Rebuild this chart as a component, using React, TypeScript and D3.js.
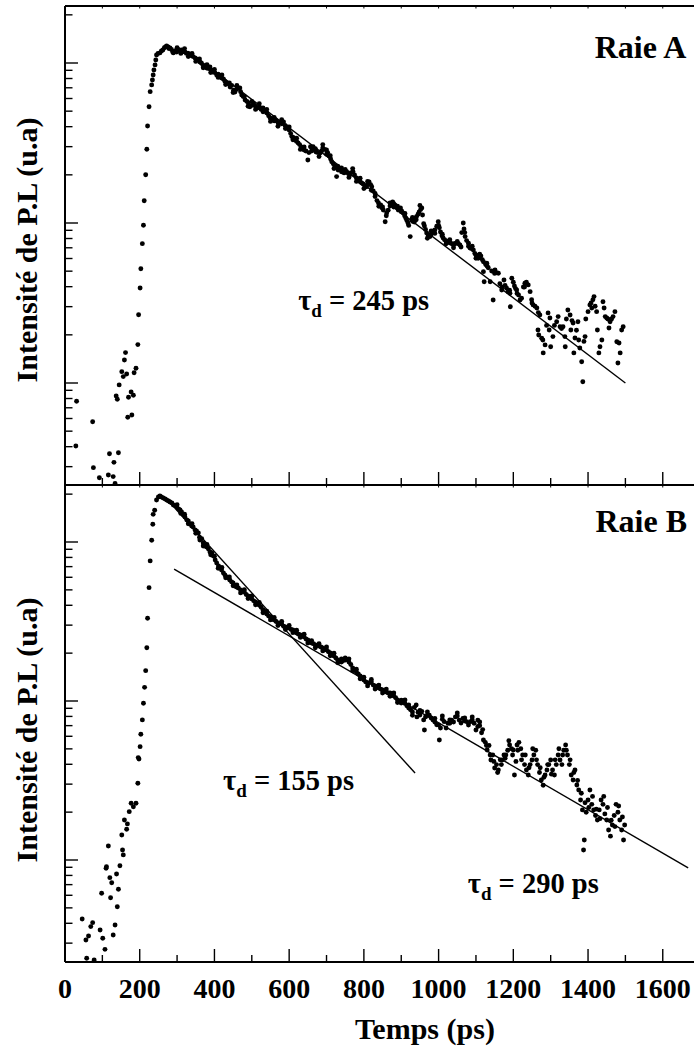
import React from "react";
import * as d3 from "d3";

// ---------- data (time in ps, log10 of PL intensity in arbitrary units) ----------
const xMajorTicks = [0, 200, 400, 600, 800, 1000, 1200, 1400, 1600];
const xMinorTicks = [100, 300, 500, 700, 900, 1100, 1300, 1500, 1700];
const yDecades = [1, 10, 100, 1000];
const yMinorMultipliers = [2, 3, 4, 5, 6, 7, 8, 9];

const raieA: [number, number][] = [
  [29,0.606],[31,0.886],[74,0.758],[76,0.471],[92,0.408],[116,0.425],[119,0.558],[129,0.415],[131,0.504],[134,0.372],
  [137,0.919],[140,0.898],[143,0.564],[145,0.988],[152,1.071],[156,1.04],[159,1.144],[162,1.19],[165,1.056],[168,0.786],
  [170,0.911],[177,0.944],[179,0.8],[183,0.923],[185,1.064],[190,1.092],[195,1.24],[197,1.427],[201,1.594],[203,1.714],
  [207,1.871],[210,1.986],[212,2.139],[216,2.302],[219,2.461],[221,2.606],[225,2.727],[228,2.821],
  [232,2.863],[234,2.894],[236,2.925],[238,2.956],[241,2.988],[243,3.019],[245,3.05],
  [249,3.06],[254,3.063],[258,3.075],[262,3.081],[266,3.095],[269,3.1],[272,3.106],[276,3.1],[278,3.09],[281,3.094],
  [285,3.085],[288,3.07],[290,3.063],[294,3.072],[297,3.078],[299,3.069],[303,3.085],[307,3.08],[312,3.081],[315,3.07],
  [318,3.075],[321,3.069],[325,3.06],[329,3.062],[332,3.055],[335,3.05],[339,3.045],[343,3.04],[348,3.031],[352,3.025],
  [356,3.02],[361,3.006],[365,3.0],[369,2.988],[374,2.98],[379,2.969],[384,2.965],[388,2.975],[392,2.955],[396,2.944],
  [401,2.94],[406,2.925],[410,2.93],[414,2.915],[419,2.906],[424,2.9],[428,2.885],[433,2.875],[437,2.87],[442,2.85],
  [446,2.86],[451,2.83],[455,2.819],[459,2.835],[463,2.844],[468,2.844],[473,2.8],[477,2.79],[482,2.769],[487,2.76],
  [491,2.75],[495,2.727],[500,2.735],[505,2.744],[510,2.73],[515,2.719],[520,2.725],[525,2.71],[530,2.719],[535,2.7],
  [540,2.688],[545,2.67],[549,2.656],[554,2.65],[560,2.638],[565,2.64],[570,2.628],[575,2.625],[580,2.62],[585,2.631],
  [589,2.61],[593,2.602],[597,2.59],[600,2.581],[604,2.56],[607,2.54],[611,2.535],[615,2.519],[620,2.51],[624,2.5],
  [628,2.49],[632,2.475],[636,2.47],[640,2.456],[645,2.45],[650,2.394],[653,2.44],[657,2.477],[661,2.47],[664,2.477],
  [668,2.455],[672,2.444],[677,2.44],[683,2.438],[687,2.45],[690,2.469],[695,2.46],[700,2.456],[703,2.44],[707,2.419],
  [711,2.4],[714,2.383],[718,2.37],[722,2.356],[727,2.29],[729,2.345],[731,2.331],[735,2.34],[740,2.344],[744,2.33],
  [747,2.313],[751,2.32],[754,2.321],[758,2.31],[762,2.3],[766,2.315],[771,2.321],[775,2.3],[780,2.281],[785,2.27],
  [790,2.258],[794,2.25],[798,2.244],[802,2.235],[807,2.227],[810,2.24],[814,2.256],[818,2.24],[821,2.227],[825,2.2],
  [830,2.165],[835,2.14],[839,2.125],[845,2.113],[848,2.095],[852,2.081],[857,2.008],[861,2.063],[865,2.08],[870,2.106],
  [874,2.12],[877,2.131],[880,2.12],[883,2.113],[888,2.095],[892,2.081],[898,2.094],[901,2.075],[905,2.063],[909,2.045],
  [912,2.031],[915,2.015],[918,2.0],[924,1.915],[928,2.019],[931,2.01],[935,2.006],[938,2.03],[941,2.04],[945,2.055],
  [948,2.069],[952,2.085],[955,2.094],[957,2.05],[962,1.981],[965,1.96],[968,1.938],[972,1.925],[977,1.915],[980,1.93],
  [983,1.938],[987,1.95],[990,1.956],[995,1.98],[999,2.008],[1002,1.97],[1005,1.944],[1009,1.92],[1012,1.906],[1016,1.895],
  [1020,1.888],[1025,1.88],[1031,1.875],[1036,1.87],[1040,1.863],[1044,1.872],[1048,1.875],[1053,1.87],[1057,1.863],[1062,1.94],
  [1066,2.0],[1068,1.963],[1071,1.915],[1075,1.89],[1080,1.873],[1084,1.844],[1088,1.84],[1093,1.831],[1097,1.81],[1100,1.8],
  [1104,1.79],[1106,1.78],[1110,1.785],[1113,1.794],[1117,1.77],[1120,1.758],[1120,1.696],[1122,1.633],[1126,1.74],[1129,1.748],
  [1133,1.72],[1138,1.633],[1142,1.7],[1146,1.519],[1151,1.706],[1155,1.69],[1160,1.686],[1164,1.62],[1169,1.581],[1175,1.644],
  [1178,1.61],[1182,1.592],[1186,1.57],[1191,1.561],[1192,1.477],[1196,1.655],[1200,1.63],[1203,1.606],[1206,1.59],[1209,1.581],
  [1214,1.55],[1218,1.519],[1222,1.53],[1227,1.6],[1231,1.623],[1235,1.63],[1240,1.613],[1245,1.571],[1249,1.52],[1253,1.488],
  [1258,1.48],[1263,1.469],[1267,1.44],[1271,1.425],[1266,1.331],[1268,1.3],[1276,1.28],[1279,1.269],[1285,1.238],[1280,1.188],
  [1289,1.36],[1293,1.438],[1298,1.406],[1296,1.331],[1306,1.29],[1300,1.227],[1310,1.36],[1316,1.383],[1320,1.415],[1325,1.352],
  [1329,1.34],[1333,1.352],[1338,1.29],[1339,1.227],[1342,1.4],[1346,1.456],[1352,1.425],[1354,1.331],[1357,1.39],[1360,1.375],
  [1365,1.281],[1362,1.188],[1369,1.33],[1373,1.383],[1375,1.269],[1378,1.219],[1383,1.133],[1386,1.008],[1389,1.26],[1392,1.29],
  [1394,1.4],[1400,1.446],[1405,1.488],[1408,1.5],[1413,1.52],[1416,1.54],[1410,1.469],[1419,1.48],[1423,1.446],[1425,1.331],
  [1432,1.227],[1429,1.188],[1437,1.269],[1440,1.508],[1443,1.469],[1446,1.415],[1450,1.406],[1453,1.4],[1459,1.383],[1456,1.344],
  [1463,1.4],[1467,1.415],[1472,1.446],[1477,1.258],[1483,1.25],[1486,1.188],[1480,1.125],[1490,1.331],[1494,1.352],
  // second row of points in the band
  [300,3.095],[310,3.06],[320,3.09],[330,3.04],[340,3.06],[350,3.01],[360,3.025],[370,2.97],[380,2.99],[390,2.94],
  [400,2.96],[410,2.91],[420,2.925],[430,2.865],[440,2.875],[450,2.815],[460,2.86],[470,2.82],[480,2.79],[490,2.73],
  [500,2.76],[510,2.71],[520,2.745],[530,2.695],[540,2.71],[550,2.635],[560,2.66],[570,2.605],[580,2.645],[590,2.59],
  [600,2.6],[610,2.52],[620,2.53],[630,2.46],[640,2.475],[660,2.45],[670,2.465],[680,2.415],[690,2.49],[700,2.43],
  [710,2.42],[720,2.34],[730,2.355],[740,2.32],[750,2.335],[760,2.285],[770,2.34],[780,2.26],[790,2.28],[800,2.215],
  [810,2.26],[820,2.205],[830,2.185],[840,2.105],[850,2.1],[860,2.045],[870,2.125],[880,2.1],[890,2.105],[900,2.07],
  [910,2.06],[920,1.985],[930,2.035],[940,2.02],[950,2.11],[960,1.995],[970,1.905],[980,1.95],[990,1.935],[1000,1.985],
  [1010,1.93],[1020,1.87],[1030,1.895],[1040,1.845],[1050,1.885],[1060,1.85],[1070,1.94],[1080,1.855],[1090,1.855],[1100,1.78],
  [1110,1.805],[1130,1.73],[1150,1.685],[1170,1.6],[1190,1.58],[1210,1.56],[1230,1.6],[1250,1.5]
];

const raieB: [number, number][] = [
  [46,0.629],[56,0.497],[58,0.382],[63,0.522],[69,0.581],[74,0.606],[78,0.371],[94,0.56],[98,0.791],[101,0.508],
  [107,0.438],[110,0.948],[111,0.958],[116,1.088],[120,0.889],[122,0.763],[125,0.857],[129,0.528],[134,0.591],[138,0.912],
  [140,0.706],[143,0.816],[147,0.964],[152,1.157],[154,1.063],[156,1.032],[159,1.252],[165,1.193],[167,1.227],[172,1.304],
  [177,1.357],[183,1.335],[190,1.357],[195,1.483],[196,1.644],[198,1.635],[201,1.713],[203,1.791],[207,1.881],[210,1.986],
  [213,2.086],[216,2.191],[219,2.335],[221,2.52],[225,2.713],[228,2.881],[232,3.011],[235,3.112],[236,3.174],
  [240,3.2],[245,3.264],[250,3.283],[254,3.289],[258,3.283],[263,3.277],[268,3.271],[272,3.264],[277,3.258],[281,3.252],
  [286,3.245],[290,3.233],[295,3.226],[299,3.22],[304,3.208],[308,3.201],[312,3.189],[317,3.17],[321,3.157],[326,3.139],
  [330,3.132],[335,3.113],[339,3.101],[343,3.094],[348,3.076],[352,3.069],[357,3.057],[361,3.013],[366,3.02],[370,2.994],
  [375,2.975],[379,2.969],[384,2.956],[388,2.937],[393,2.931],[397,2.912],[402,2.887],[406,2.868],[411,2.849],[415,2.837],
  [419,2.824],[424,2.805],[428,2.793],[433,2.78],[437,2.774],[441,2.761],[446,2.749],[450,2.742],[455,2.723],[459,2.717],
  [464,2.711],[470,2.698],[475,2.69],[480,2.686],[485,2.67],[490,2.66],[495,2.655],[500,2.642],[505,2.63],[510,2.623],
  [515,2.61],[520,2.604],[525,2.59],[530,2.572],[535,2.56],[540,2.547],[545,2.535],[550,2.528],[555,2.515],[560,2.509],
  [565,2.5],[570,2.491],[575,2.49],[580,2.484],[585,2.47],[590,2.466],[595,2.46],[600,2.459],[605,2.45],[610,2.447],
  [615,2.435],[620,2.428],[625,2.42],[630,2.415],[635,2.41],[640,2.403],[645,2.39],[650,2.384],[655,2.37],[660,2.365],
  [665,2.36],[670,2.352],[675,2.35],[680,2.346],[685,2.34],[690,2.333],[695,2.325],[700,2.321],[705,2.31],[710,2.302],
  [715,2.29],[720,2.283],[725,2.27],[730,2.258],[735,2.25],[740,2.245],[745,2.255],[750,2.258],[755,2.26],[760,2.245],
  [765,2.23],[770,2.208],[775,2.195],[780,2.183],[785,2.17],[790,2.157],[795,2.145],[800,2.132],[805,2.12],[810,2.113],
  [815,2.115],[820,2.12],[825,2.1],[830,2.094],[835,2.09],[840,2.082],[845,2.075],[850,2.069],[855,2.06],[860,2.057],
  [865,2.05],[870,2.05],[875,2.04],[880,2.031],[885,2.02],[890,2.006],[895,1.995],[900,1.987],[905,2.0],[910,2.006],
  [915,1.97],[920,1.956],[925,1.945],[930,1.931],[935,1.96],[940,1.975],[942,1.9],[945,1.93],[950,1.912],[955,1.935],
  [960,1.881],[962,1.818],[965,1.9],[970,1.931],[975,1.91],[980,1.893],[985,1.88],[990,1.868],[995,1.85],[1000,1.849],
  [1002,1.755],[1005,1.83],[1010,1.906],[1015,1.87],[1020,1.83],[1025,1.86],[1030,1.881],[1035,1.88],[1040,1.868],[1045,1.9],
  [1050,1.906],[1055,1.88],[1060,1.862],[1065,1.89],[1070,1.893],[1075,1.87],[1080,1.849],[1085,1.87],[1090,1.881],[1095,1.86],
  [1100,1.818],[1105,1.84],[1110,1.868],[1115,1.8],[1120,1.755],[1125,1.74],[1130,1.692],[1135,1.72],[1140,1.629],[1145,1.66],
  [1150,1.579],[1155,1.6],[1160,1.566],[1165,1.63],[1170,1.629],[1175,1.66],[1180,1.66],[1185,1.69],[1190,1.723],[1195,1.7],
  [1200,1.692],[1203,1.535],[1207,1.62],[1210,1.723],[1215,1.74],[1220,1.7],[1225,1.66],[1230,1.6],[1235,1.566],[1240,1.535],
  [1245,1.6],[1250,1.629],[1255,1.66],[1260,1.69],[1265,1.6],[1270,1.55],[1275,1.503],[1280,1.47],[1285,1.535],[1290,1.566],
  [1295,1.6],[1300,1.629],[1305,1.566],[1310,1.535],[1315,1.6],[1320,1.66],[1325,1.629],[1330,1.6],[1335,1.69],[1340,1.723],
  [1345,1.66],[1350,1.6],[1355,1.535],[1360,1.503],[1365,1.566],[1370,1.472],[1375,1.44],[1380,1.377],[1385,1.315],[1388,1.063],
  [1390,1.126],[1395,1.3],[1400,1.377],[1405,1.44],[1410,1.35],[1415,1.315],[1420,1.28],[1425,1.252],[1430,1.315],[1435,1.377],
  [1440,1.35],[1445,1.29],[1450,1.252],[1455,1.189],[1460,1.15],[1465,1.22],[1470,1.28],[1475,1.35],[1480,1.3],[1485,1.252],
  [1490,1.189],[1495,1.126],[1498,1.22],
  // second row of points in the band and extra scatter in the tail
  [300,3.235],[310,3.18],[320,3.175],[330,3.115],[340,3.115],[350,3.055],[360,3.03],[370,2.975],[380,2.985],[390,2.92],
  [400,2.91],[410,2.835],[420,2.84],[430,2.775],[440,2.78],[450,2.725],[460,2.73],[470,2.68],[480,2.7],[490,2.645],
  [500,2.66],[510,2.605],[520,2.62],[530,2.555],[540,2.565],[550,2.51],[560,2.525],[570,2.475],[580,2.5],[590,2.45],
  [600,2.475],[610,2.43],[620,2.445],[630,2.4],[640,2.42],[650,2.365],[660,2.38],[670,2.335],[680,2.36],[690,2.315],
  [700,2.34],[710,2.285],[720,2.3],[730,2.24],[740,2.265],[750,2.27],[760,2.265],[770,2.19],[780,2.2],[790,2.14],
  [800,2.15],[810,2.095],[820,2.135],[830,2.075],[840,2.1],[850,2.05],[860,2.075],[870,2.03],[880,2.05],[890,1.99],
  [900,2.005],[910,1.985],[920,1.975],[930,1.91],[950,1.94],[970,1.91],[990,1.89],[1010,1.885],[1030,1.86],[1050,1.925],
  [1070,1.875],[1090,1.9],[1110,1.845],
  [1105,1.88],[1118,1.82],[1128,1.72],[1138,1.66],[1148,1.62],[1158,1.55],[1168,1.6],[1178,1.64],[1188,1.75],[1198,1.66],
  [1212,1.69],[1222,1.63],[1232,1.66],[1242,1.58],[1252,1.7],[1262,1.63],[1272,1.58],[1282,1.52],[1292,1.6],[1302,1.54],
  [1312,1.63],[1322,1.7],[1332,1.66],[1342,1.69],[1352,1.63],[1362,1.55],[1372,1.5],[1382,1.42],[1392,1.36],[1402,1.33],
  [1412,1.4],[1422,1.32],[1432,1.26],[1442,1.4],[1452,1.33],[1462,1.25],[1472,1.21],[1482,1.34],[1492,1.27]
];

// fitted decays (end points of the straight lines on the log axis)
const fitA: [number, number][] = [[380, 2.985], [1500, 1.0]];
const fitB155: [number, number][] = [[294, 3.214], [937, 1.547]];
const fitB290: [number, number][] = [[292, 2.83], [1668, 0.95]];

const panelNames = ["Raie A", "Raie B"];
const tauLabels = ["245", "155", "290"];
const xTitle = "Temps (ps)";
const yTitle = "Intensité de P.L (u.a)";

// ---------- layout ----------
const W = 694;
const H = 1049;
const X0 = 65;
const FONT = "'Liberation Serif', 'Times New Roman', serif";

export default function App() {
  const x = d3.scaleLinear().domain([0, 1700]).range([X0, X0 + 1700 * 0.3736]);
  const panels = [
    {
      top: 6, bottom: 485,
      y: d3.scaleLog().domain([10 ** 0.3625, 10 ** 3.35625]).range([485, 6]),
      data: raieA, fits: [fitA], name: panelNames[0], nameAt: [1663, 3.031],
      taus: [{ v: tauLabels[0], at: [624, 1.456] }],
      titleY: 250,
    },
    {
      top: 485, bottom: 962,
      y: d3.scaleLog().domain([10 ** 0.3585, 10 ** 3.3585]).range([962, 485]),
      data: raieB, fits: [fitB155, fitB290], name: panelNames[1], nameAt: [1665, 3.063],
      taus: [{ v: tauLabels[1], at: [423, 1.44] }, { v: tauLabels[2], at: [1078, 0.793] }],
      titleY: 730,
    },
  ];

  return (
    <svg width={W} height={H} style={{ position: "absolute", left: 0, top: 0, background: "#fff" }} fontFamily={FONT}>
      <rect x={0} y={0} width={W} height={H} fill="#fff" />
      {panels.map((p, pi) => {
        const yTicks: { v: number; major: boolean }[] = [];
        yDecades.forEach((d) => {
          yTicks.push({ v: d, major: true });
          yMinorMultipliers.forEach((m) => yTicks.push({ v: d * m, major: false }));
        });
        const [lo, hi] = p.y.domain();
        const line = d3.line<[number, number]>().x((d) => x(d[0])).y((d) => p.y(10 ** d[1]));
        const clipId = `clip${pi}`;
        return (
          <g key={pi}>
            <defs>
              <clipPath id={clipId}>
                <rect x={X0} y={p.top} width={W} height={p.bottom - p.top} />
              </clipPath>
            </defs>
            <g clipPath={`url(#${clipId})`}>
              {p.fits.map((f, fi) => (
                <path key={fi} d={line(f) || ""} fill="none" stroke="#000" strokeWidth={1.4} />
              ))}
              {p.data.map((d, i) => (
                <circle key={i} cx={x(d[0])} cy={p.y(10 ** d[1])} r={2.45} fill="#000" />
              ))}
            </g>
            {/* y ticks */}
            {yTicks
              .filter((t) => t.v >= lo && t.v <= hi)
              .map((t, i) => (
                <line key={i} x1={X0} x2={X0 + (t.major ? 13 : 7.5)} y1={p.y(t.v)} y2={p.y(t.v)} stroke="#000" strokeWidth={1.4} />
              ))}
            {/* x ticks on bottom edge */}
            {xMajorTicks.map((t) => (
              <line key={"M" + t} x1={x(t)} x2={x(t)} y1={p.bottom} y2={p.bottom - 13} stroke="#000" strokeWidth={1.4} />
            ))}
            {xMinorTicks.map((t) => (
              <line key={"m" + t} x1={x(t)} x2={x(t)} y1={p.bottom} y2={p.bottom - 7} stroke="#000" strokeWidth={1.4} />
            ))}
            {/* small ticks on top edge */}
            {[...xMajorTicks, ...xMinorTicks].map((t) => (
              <line key={"t" + t} x1={x(t)} x2={x(t)} y1={p.top} y2={p.top + 2.5} stroke="#000" strokeWidth={1} />
            ))}
            {/* frame */}
            <line x1={X0} x2={W} y1={p.top} y2={p.top} stroke="#000" strokeWidth={2} />
            <line x1={X0} x2={W} y1={p.bottom} y2={p.bottom} stroke="#000" strokeWidth={2} />
            <line x1={X0} x2={X0} y1={p.top} y2={p.bottom} stroke="#000" strokeWidth={2} />
            {/* panel name */}
            <text x={x(p.nameAt[0])} y={p.y(10 ** p.nameAt[1])} textAnchor="end" fontSize={32} fontWeight="bold">
              {p.name}
            </text>
            {p.taus.map((t, ti) => (
              <text key={ti} x={x(t.at[0])} y={p.y(10 ** t.at[1])} fontSize={28.5} fontWeight="bold">
                τ
                <tspan fontSize={19} dy={7}>d</tspan>
                <tspan dy={-7}>{` = ${t.v} ps`}</tspan>
              </text>
            ))}
            {/* y title */}
            <text transform={`translate(37,${p.titleY}) rotate(-90)`} textAnchor="middle" fontSize={30} fontWeight="bold">
              {yTitle}
            </text>
          </g>
        );
      })}
      {/* x tick labels */}
      {xMajorTicks.map((t) => (
        <text key={t} x={x(t)} y={998} textAnchor="middle" fontSize={28} fontWeight="bold">
          {t}
        </text>
      ))}
      <text x={425} y={1039} textAnchor="middle" fontSize={30} fontWeight="bold">
        {xTitle}
      </text>
    </svg>
  );
}
